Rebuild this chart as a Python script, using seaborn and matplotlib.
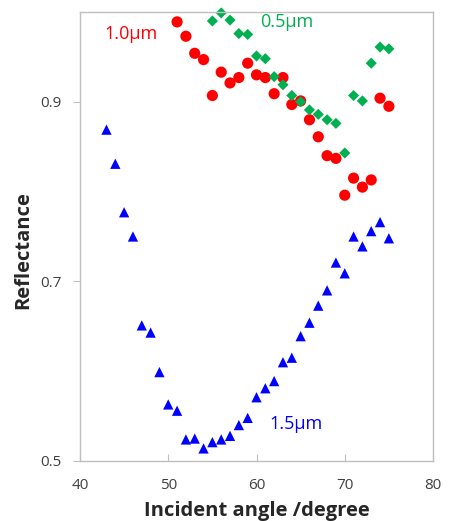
import matplotlib
matplotlib.use("Agg")
import matplotlib.pyplot as plt
import seaborn as sns
import pandas as pd

# 1.0 um (red circles)
angle_10 = [51, 52, 53, 54, 55, 56, 57, 58, 59, 60, 61, 62, 63, 64, 65, 66, 67, 68, 69, 70, 71, 72, 73, 74, 75]
refl_10 = [0.989, 0.973, 0.954, 0.947, 0.907, 0.933, 0.921, 0.927, 0.943, 0.930, 0.927, 0.909, 0.927, 0.897,
           0.901, 0.880, 0.861, 0.840, 0.837, 0.796, 0.815, 0.805, 0.813, 0.904, 0.895]

# 0.5 um (green diamonds)
angle_05 = [55, 56, 57, 58, 59, 60, 61, 62, 63, 64, 65, 66, 67, 68, 69, 70, 71, 72, 73, 74, 75]
refl_05 = [0.990, 0.999, 0.991, 0.976, 0.975, 0.951, 0.948, 0.928, 0.919, 0.907, 0.900, 0.891, 0.886, 0.880,
           0.876, 0.843, 0.907, 0.901, 0.943, 0.961, 0.959]

# 1.5 um (blue triangles)
angle_15 = [43, 44, 45, 46, 47, 48, 49, 50, 51, 52, 53, 54, 55, 56, 57, 58, 59, 60, 61, 62, 63, 64, 65, 66,
            67, 68, 69, 70, 71, 72, 73, 74, 75]
refl_15 = [0.869, 0.831, 0.777, 0.750, 0.651, 0.643, 0.599, 0.563, 0.556, 0.524, 0.525, 0.514, 0.521, 0.524,
           0.528, 0.540, 0.548, 0.571, 0.581, 0.589, 0.610, 0.615, 0.639, 0.654, 0.673, 0.690, 0.721, 0.709,
           0.750, 0.739, 0.756, 0.766, 0.748]

x_ticks = [40, 50, 60, 70, 80]
y_ticks = [0.5, 0.7, 0.9]

sns.set_style("white")
plt.rcParams['font.family'] = ['Open Sans', 'DejaVu Sans']

fig = plt.figure(figsize=(4.49, 5.21), dpi=100)
ax = fig.add_axes([80 / 449, 1 - 461 / 521, (433 - 80) / 449, (461 - 12) / 521])

sns.scatterplot(x=angle_10, y=refl_10, ax=ax, marker="o", color="#FF0000", s=65, edgecolor="none", clip_on=False)
sns.scatterplot(x=angle_05, y=refl_05, ax=ax, marker="D", color="#00B050", s=32, edgecolor="none", clip_on=False)
sns.scatterplot(x=angle_15, y=refl_15, ax=ax, marker="^", color="#0000FF", s=55, edgecolor="none", clip_on=False)

ax.set_xlim(40, 80)
ax.set_ylim(0.5, 1.0)
ax.set_xticks(x_ticks)
ax.set_yticks(y_ticks)
ax.set_xticklabels([str(v) for v in x_ticks])
ax.set_yticklabels([str(v) for v in y_ticks])

for sp in ax.spines.values():
    sp.set_color("#BFBFBF")
    sp.set_linewidth(1.0)

ax.tick_params(axis="x", direction="in", length=5, color="#BFBFBF", labelsize=11, labelcolor="#404040", pad=12)
ax.tick_params(axis="y", direction="out", length=5, color="#BFBFBF", labelsize=11, labelcolor="#404040", pad=8)
ax.tick_params(bottom=True, left=True)

ax.set_xlabel("Incident angle /degree", fontsize=14.5, fontweight="bold", labelpad=6)
ax.set_ylabel("Reflectance", fontsize=14.5, fontweight="bold")
ax.yaxis.set_label_coords(-0.133, 0.47)

ax.text(42.8, 0.976, "1.0µm", color="#FF0000", fontsize=13, va="center", ha="left")
ax.text(60.4, 0.989, "0.5µm", color="#00B050", fontsize=13, va="center", ha="left")
ax.text(61.5, 0.541, "1.5µm", color="#0000FF", fontsize=13, va="center", ha="left")

fig.savefig("out.png", dpi=100)
